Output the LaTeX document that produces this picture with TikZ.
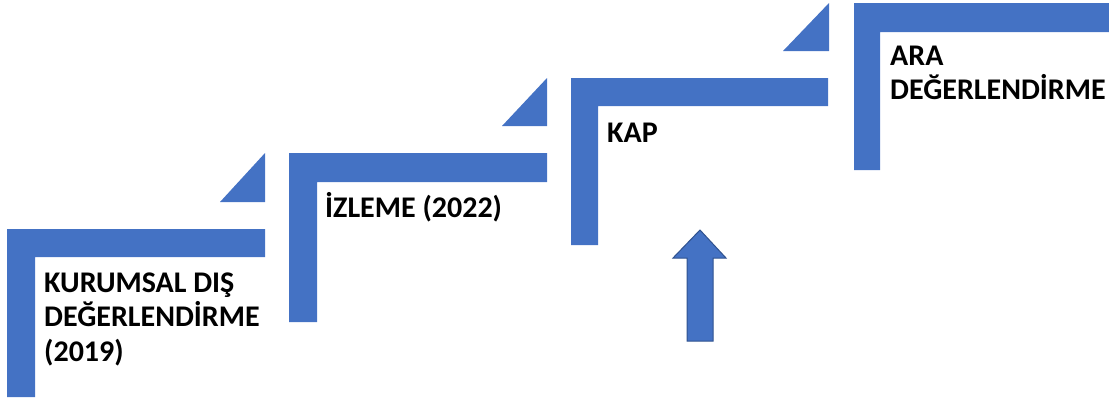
\documentclass[tikz,border=0pt]{standalone}
\usepackage{fontspec}
\setmainfont{Carlito}
\definecolor{stepblue}{HTML}{4472C4}
\definecolor{arrowedge}{HTML}{2F528F}
\tikzset{
  stepbar/.style={fill=stepblue, draw=none},
  steplabel/.style={anchor=base west, inner sep=0pt, align=left, font=\fontsize{30}{34.5}\selectfont\bfseries, text=black},
  bigarrow/.style={fill=stepblue, draw=arrowedge, line width=1pt, line join=miter}
}
\begin{document}
\begin{tikzpicture}[x=1pt,y=-1pt]
\useasboundingbox (0,0) rectangle (1109,400);
% step 1
\fill[stepbar] (7,397) -- (7,229) -- (265,229) -- (265,257) -- (35,257) -- (35,397) -- cycle;
\fill[stepbar] (220,202) -- (265,153) -- (265,202) -- cycle;
% step 2
\fill[stepbar] (289,322) -- (289,153) -- (547,153) -- (547,182) -- (317,182) -- (317,322) -- cycle;
\fill[stepbar] (502,126) -- (547,78) -- (547,126) -- cycle;
% step 3
\fill[stepbar] (571,245) -- (571,78) -- (828,78) -- (828,106) -- (598,106) -- (598,245) -- cycle;
\fill[stepbar] (783,51) -- (829,3) -- (829,51) -- cycle;
% step 4
\fill[stepbar] (854,170) -- (854,3) -- (1109,3) -- (1109,32) -- (880,32) -- (880,170) -- cycle;
% arrow
\draw[bigarrow] (700,230) -- (726,258) -- (713,258) -- (713,341) -- (687,341) -- (687,258) -- (673,258) -- cycle;
% labels (base anchor = baseline of last line)
\node[steplabel] (l1) at (44,361) {KURUMSAL DIŞ\\DEĞERLENDİRME\\(2019)};
\node[steplabel] (l2) at (325,217) {İZLEME (2022)};
\node[steplabel] (l3) at (607,142) {KAP};
\node[steplabel] (l4) at (890,99.5) {ARA\\DEĞERLENDİRME};
\end{tikzpicture}
\end{document}
